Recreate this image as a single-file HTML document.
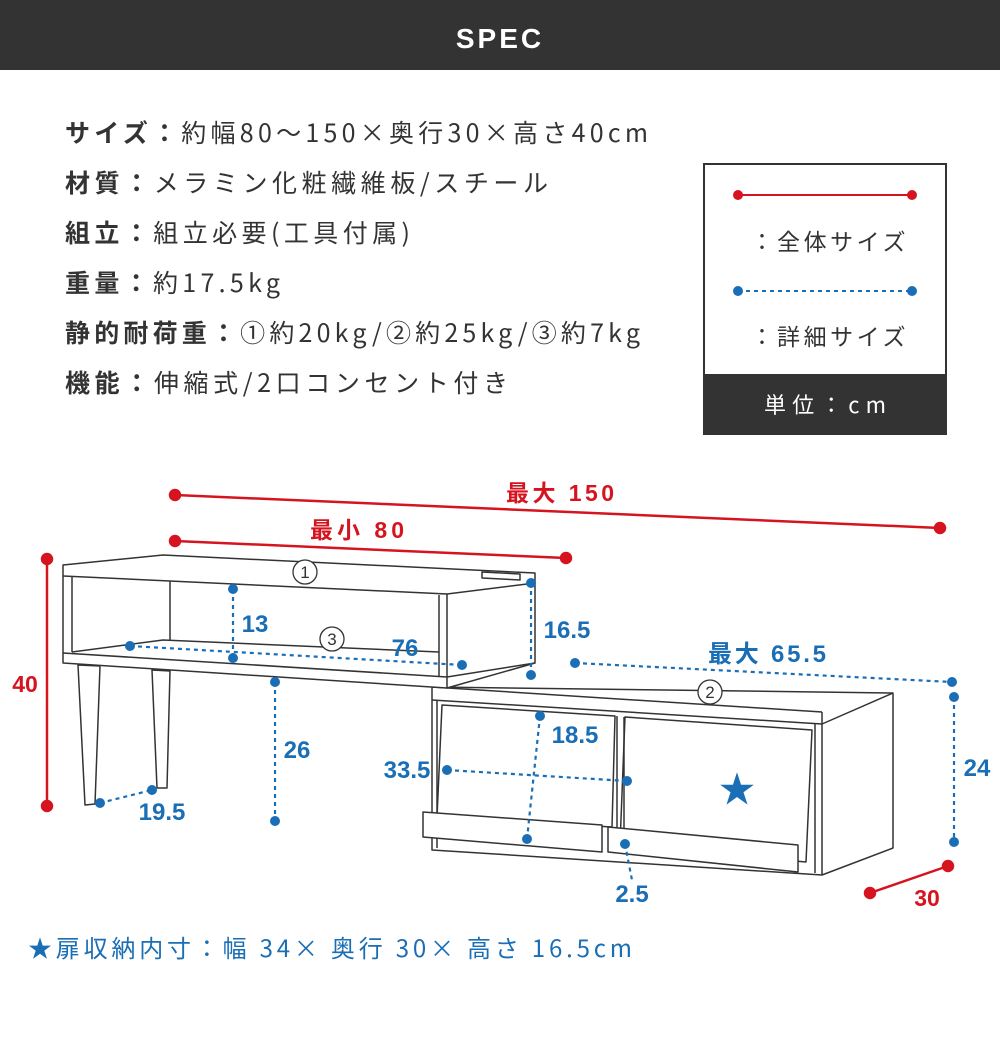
<!DOCTYPE html>
<html><head><meta charset="utf-8"><style>
html,body{margin:0;padding:0;background:#fff;}
body{width:1000px;height:1032px;overflow:hidden;font-family:"Liberation Sans","Noto Sans CJK JP",sans-serif;}
</style></head><body>
<svg width="1000" height="1032" viewBox="0 0 1000 1032" xmlns="http://www.w3.org/2000/svg" font-family="Liberation Sans, Noto Sans CJK JP, sans-serif">
<rect x="0" y="0" width="1000" height="70" fill="#333"/>
<text x="500" y="48" fill="#fff" font-size="28" font-weight="bold" text-anchor="middle" letter-spacing="3">SPEC</text>

<g fill="#333" font-size="25" font-family="Noto Sans CJK JP, sans-serif" lengthAdjust="spacing">
<text x="65" y="142" textLength="583"><tspan font-weight="bold">サイズ：</tspan>約幅80～150×奥行30×高さ40cm</text>
<text x="65" y="192" textLength="483"><tspan font-weight="bold">材質：</tspan>メラミン化粧繊維板/スチール</text>
<text x="65" y="242" textLength="345"><tspan font-weight="bold">組立：</tspan>組立必要(工具付属)</text>
<text x="65" y="292" textLength="215"><tspan font-weight="bold">重量：</tspan>約17.5kg</text>
<text x="65" y="342" textLength="575"><tspan font-weight="bold">静的耐荷重：</tspan>①約20kg/②約25kg/③約7kg</text>
<text x="65" y="392" textLength="443"><tspan font-weight="bold">機能：</tspan>伸縮式/2口コンセント付き</text>
</g>

<rect x="704" y="164" width="242" height="270" fill="#fff" stroke="#333" stroke-width="2"/>
<rect x="704" y="374" width="242" height="60" fill="#333"/>
<text x="825" y="413" fill="#fff" font-size="22" text-anchor="middle" font-family="Noto Sans CJK JP, sans-serif" textLength="122" lengthAdjust="spacing">単位：cm</text>
<line x1="738" y1="195" x2="912" y2="195" stroke="#d6141f" stroke-width="2"/>
<circle cx="738" cy="195" r="5" fill="#d6141f"/><circle cx="912" cy="195" r="5" fill="#d6141f"/>
<text x="828" y="250" fill="#333" font-size="23" text-anchor="middle" font-family="Noto Sans CJK JP, sans-serif" textLength="155" lengthAdjust="spacing">：全体サイズ</text>
<line x1="738" y1="291" x2="912" y2="291" stroke="#1a6eb5" stroke-width="2" stroke-dasharray="4,4"/>
<circle cx="738" cy="291" r="5" fill="#1a6eb5"/><circle cx="912" cy="291" r="5" fill="#1a6eb5"/>
<text x="828" y="345" fill="#333" font-size="23" text-anchor="middle" font-family="Noto Sans CJK JP, sans-serif" textLength="155" lengthAdjust="spacing">：詳細サイズ</text>

<g fill="#fff" stroke="#333" stroke-width="1.5" stroke-linejoin="round">
<polygon points="432,687 893,693 893,848 822,875 432,850"/>
<polyline points="432,700 822,724 893,693" fill="none"/>
<polyline points="432,687 822,712" fill="none"/>
<line x1="822" y1="712" x2="822" y2="875"/>
<line x1="437" y1="700" x2="437" y2="848"/>
<line x1="815" y1="724" x2="815" y2="873"/>
<polygon points="442,705 615,716 612,827 437,817"/>
<polygon points="625,717 812,730 806,862 620,845"/>
<line x1="617" y1="716" x2="617" y2="850"/><line x1="624" y1="717" x2="624" y2="850"/>
<polygon points="423,812 602,825 602,852 423,837"/>
<polygon points="608,827 798,845 798,872 608,852"/>
<polygon points="78,665 100,666 95,804 85,805"/>
<polygon points="152,670 170,671 167,788 157,788"/>
<polygon points="63,565 163,555 535,573 535,663 447,688 63,663"/>
<polyline points="63,576 447,594 535,583" fill="none"/>
<line x1="447" y1="594" x2="447" y2="688"/>
<polyline points="63,653 447,677 535,663" fill="none"/>
<polyline points="72,652 163,640 439,652" fill="none"/>
<line x1="72" y1="576" x2="72" y2="652"/>
<line x1="170" y1="581" x2="170" y2="640"/>
<line x1="439" y1="595" x2="439" y2="676"/>
<polygon points="482,572 520,574 520,580 482,578"/>
</g>

<g stroke="#d6141f" stroke-width="2.5" fill="#d6141f">
<line x1="175" y1="495" x2="940" y2="528"/><circle cx="175" cy="495" r="5"/><circle cx="940" cy="528" r="5"/>
<line x1="175" y1="541" x2="566" y2="558"/><circle cx="175" cy="541" r="5"/><circle cx="566" cy="558" r="5"/>
<line x1="47" y1="559" x2="47" y2="806"/><circle cx="47" cy="559" r="5"/><circle cx="47" cy="806" r="5"/>
<line x1="870" y1="893" x2="948" y2="866"/><circle cx="870" cy="893" r="5"/><circle cx="948" cy="866" r="5"/>
</g>
<g fill="#d6141f" font-size="23" font-weight="bold">
<text x="560" y="501" text-anchor="middle" textLength="108" lengthAdjust="spacing">最大 150</text>
<text x="357" y="538" text-anchor="middle" textLength="94" lengthAdjust="spacing">最小 80</text>
<text x="25" y="692" text-anchor="middle">40</text>
<text x="927" y="906" text-anchor="middle">30</text>
</g>

<g stroke="#1a6eb5" stroke-width="2.2" stroke-dasharray="4,4" fill="none">
<line x1="233" y1="589" x2="233" y2="658"/>
<line x1="130" y1="646" x2="462" y2="665"/>
<line x1="531" y1="583" x2="531" y2="675"/>
<line x1="575" y1="663" x2="952" y2="682"/>
<line x1="275" y1="682" x2="275" y2="821"/>
<line x1="100" y1="803" x2="152" y2="790"/>
<line x1="540" y1="716" x2="527" y2="839"/>
<line x1="447" y1="770" x2="627" y2="781"/>
<line x1="625" y1="844" x2="632" y2="880"/>
<line x1="954" y1="697" x2="954" y2="842"/>
</g>
<g fill="#1a6eb5">
<circle cx="233" cy="589" r="5"/><circle cx="233" cy="658" r="5"/>
<circle cx="130" cy="646" r="5"/><circle cx="462" cy="665" r="5"/>
<circle cx="531" cy="583" r="5"/><circle cx="531" cy="675" r="5"/>
<circle cx="575" cy="663" r="5"/><circle cx="952" cy="682" r="5"/>
<circle cx="275" cy="682" r="5"/><circle cx="275" cy="821" r="5"/>
<circle cx="100" cy="803" r="5"/><circle cx="152" cy="790" r="5"/>
<circle cx="540" cy="716" r="5"/><circle cx="527" cy="839" r="5"/>
<circle cx="447" cy="770" r="5"/><circle cx="627" cy="781" r="5"/>
<circle cx="625" cy="844" r="5"/>
<circle cx="954" cy="697" r="5"/><circle cx="954" cy="842" r="5"/>
</g>
<g fill="#1a6eb5" font-size="24" font-weight="bold">
<text x="255" y="632" text-anchor="middle">13</text>
<text x="405" y="656" text-anchor="middle">76</text>
<text x="567" y="638" text-anchor="middle">16.5</text>
<text x="767" y="662" text-anchor="middle" textLength="118" lengthAdjust="spacing">最大 65.5</text>
<text x="297" y="758" text-anchor="middle">26</text>
<text x="162" y="820" text-anchor="middle">19.5</text>
<text x="575" y="743" text-anchor="middle">18.5</text>
<text x="407" y="778" text-anchor="middle">33.5</text>
<text x="632" y="902" text-anchor="middle">2.5</text>
<text x="977" y="776" text-anchor="middle">24</text>
<text x="737" y="802" text-anchor="middle" font-size="36">★</text>
</g>

<g fill="#fff" stroke="#333" stroke-width="1.3">
<circle cx="305" cy="572" r="12"/><circle cx="710" cy="692" r="12"/><circle cx="332" cy="639" r="12"/>
</g>
<g fill="#333" font-size="17" text-anchor="middle">
<text x="305" y="578">1</text><text x="710" y="698">2</text><text x="332" y="645">3</text>
</g>

<text x="28" y="957" fill="#1a6eb5" font-size="24" font-family="Noto Sans CJK JP, sans-serif" textLength="604" lengthAdjust="spacing">★扉収納内寸：幅 34× 奥行 30× 高さ 16.5cm</text>
</svg>
</body></html>
